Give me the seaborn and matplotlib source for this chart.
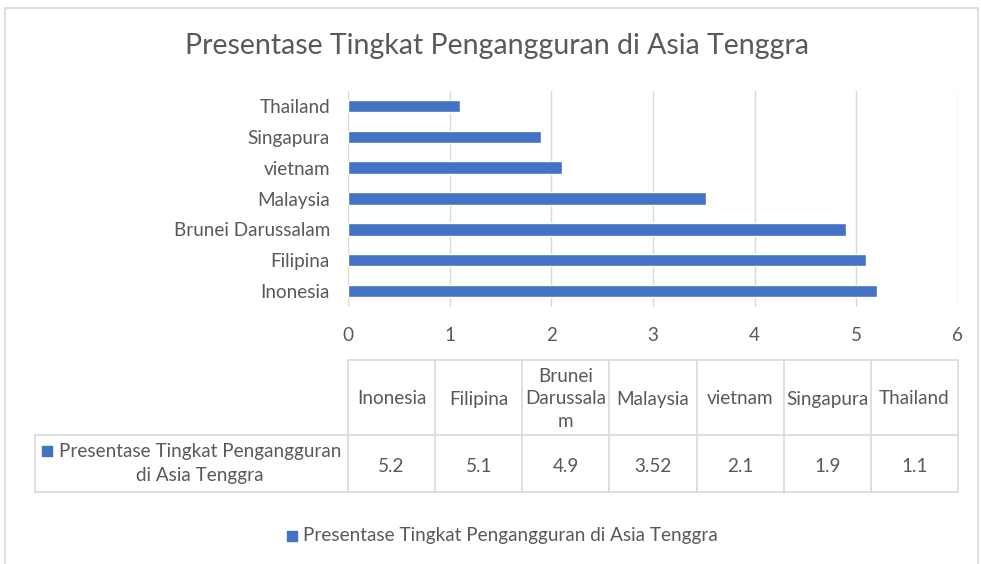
import matplotlib
matplotlib.use("Agg")
import matplotlib.pyplot as plt
import seaborn as sns
import pandas as pd

countries = ["Inonesia", "Filipina", "Brunei Darussalam", "Malaysia", "vietnam", "Singapura", "Thailand"]
header_labels = ["Inonesia", "Filipina", "Brunei\nDarussala\nm", "Malaysia", "vietnam", "Singapura", "Thailand"]
values = [5.2, 5.1, 4.9, 3.52, 2.1, 1.9, 1.1]
value_labels = ["5.2", "5.1", "4.9", "3.52", "2.1", "1.9", "1.1"]
series_name = "Presentase Tingkat Pengangguran di Asia Tenggra"
x_ticks = [0, 1, 2, 3, 4, 5, 6]

sns.set_style("white")
plt.rcParams["font.family"] = ["Lato", "DejaVu Sans"]

BLUE = "#4472C4"
TXT = "#595959"
GRID = "#D9D9D9"
W, H = 981, 564
FS = 13.6

fig = plt.figure(figsize=(W / 100, H / 100), dpi=100)

# background overlay axes in pixel coords
bg = fig.add_axes([0, 0, 1, 1])
bg.set_xlim(0, W)
bg.set_ylim(H, 0)
bg.axis("off")

# outer chart frame
bg.plot([5, 978], [8, 8], color=GRID, lw=1.2)
bg.plot([5, 5], [8, H], color=GRID, lw=1.2)
bg.plot([978, 978], [8, H], color=GRID, lw=1.2)

bg.text(497, 46, series_name, ha="center", va="center", fontsize=20.5, color=TXT)

# main bar axes
left, right, top, bottom = 348, 958, 90.5, 306.5
ax = fig.add_axes([left / W, 1 - bottom / H, (right - left) / W, (bottom - top) / H])
df = pd.DataFrame({"country": countries, "value": values})
sns.barplot(data=df, x="value", y="country", order=countries[::-1], color=BLUE,
            width=0.4, ax=ax, saturation=1)
ax.set_xlim(0, 6)
ax.set_xticks(x_ticks)
ax.set_xlabel("")
ax.set_ylabel("")
for s in ax.spines.values():
    s.set_visible(False)
ax.grid(axis="x", color=GRID, lw=1)
ax.set_axisbelow(True)
ax.tick_params(axis="both", length=0, labelsize=FS, labelcolor=TXT)
ax.tick_params(axis="x", pad=15)
ax.tick_params(axis="y", pad=13)

# data table
n = len(countries)
cw = (right - left) / n
t_top, t_mid, t_bot = 360, 435, 492
for i in range(n + 1):
    x = left + i * cw
    bg.plot([x, x], [t_top, t_bot], color=GRID, lw=1.2)
bg.plot([left, right], [t_top, t_top], color=GRID, lw=1.2)
bg.plot([35, right], [t_mid, t_mid], color=GRID, lw=1.2)
bg.plot([35, right], [t_bot, t_bot], color=GRID, lw=1.2)
bg.plot([35, 35], [t_mid, t_bot], color=GRID, lw=1.2)

for i, (h, v) in enumerate(zip(header_labels, value_labels)):
    cx = left + (i + 0.5) * cw
    bg.text(cx, 399, h, ha="center", va="center", fontsize=FS, color=TXT, linespacing=1.4)
    bg.text(cx, 466, v, ha="center", va="center", fontsize=FS, color=TXT)

bg.scatter([47], [451], marker="s", s=45, color=BLUE)
bg.text(200, 451, "Presentase Tingkat Pengangguran", ha="center", va="center", fontsize=FS, color=TXT)
bg.text(200, 475, "di Asia Tenggra", ha="center", va="center", fontsize=FS, color=TXT)

# legend
bg.scatter([292], [536], marker="s", s=60, color=BLUE)
bg.text(303, 536, series_name, ha="left", va="center", fontsize=FS, color=TXT)

fig.savefig("out.png", dpi=100)
